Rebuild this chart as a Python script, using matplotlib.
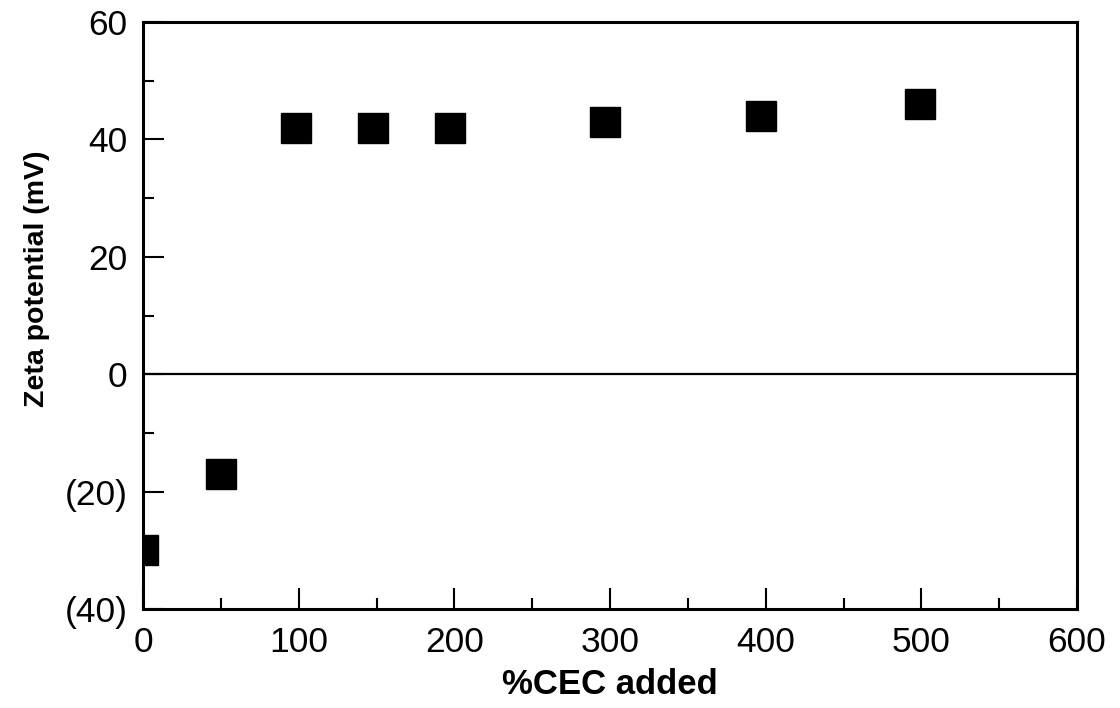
import matplotlib
matplotlib.use("Agg")
import matplotlib.pyplot as plt
from matplotlib.ticker import MultipleLocator, FuncFormatter

# data
cec_added = [0, 50, 98, 148, 197, 297, 397, 499]
zeta_mv = [-30, -17, 42, 42, 42, 43, 44, 46]

plt.rcParams['font.family'] = ['Liberation Sans', 'DejaVu Sans']

fig = plt.figure(figsize=(11.2, 7.08), dpi=100)
ax = fig.add_axes([0.1277, 0.1398, 0.8339, 0.8291])

# zero reference line
ax.axhline(0, color='black', lw=1.6, zorder=1)
ax.plot(cec_added, zeta_mv, 's', color='black', markersize=21, zorder=3)

ax.set_xlim(0, 600)
ax.set_ylim(-40, 60)
ax.xaxis.set_major_locator(MultipleLocator(100))
ax.xaxis.set_minor_locator(MultipleLocator(50))
ax.yaxis.set_major_locator(MultipleLocator(20))
ax.yaxis.set_minor_locator(MultipleLocator(10))

#negative values shown in parentheses like the original
ax.yaxis.set_major_formatter(FuncFormatter(lambda v, p: "(%d)" % abs(v) if v < 0 else "%d" % v))

ax.tick_params(which='both', direction='in', top=False, right=False, width=1.5, labelsize=25.5)
ax.tick_params(which='major', length=15)
ax.tick_params(which='minor', length=8)
ax.tick_params(axis='y', pad=11)
ax.tick_params(axis='x', pad=12)

for s in ax.spines.values():
    s.set_linewidth(2.2)

ax.set_xlabel("%CEC added", fontsize=25, fontweight='bold', labelpad=7)
ax.set_ylabel("Zeta potential (mV)", fontsize=20.5, fontweight='bold')
ax.yaxis.set_label_coords(-0.1, 0.562)

fig.savefig("out.png", dpi=100)
